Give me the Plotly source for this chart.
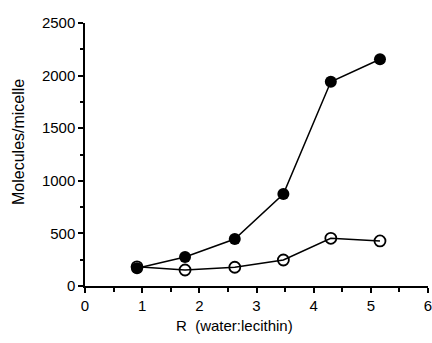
import plotly.graph_objects as go

r_values = [0.91, 1.75, 2.62, 3.47, 4.30, 5.16]
filled_values = [168, 276, 447, 874, 1942, 2155]
open_values = [182, 152, 178, 247, 453, 428]

x_ticks = [0, 1, 2, 3, 4, 5, 6]
y_ticks = [0, 500, 1000, 1500, 2000, 2500]

fig = go.Figure()
fig.add_trace(go.Scatter(
    x=r_values, y=open_values, mode="lines+markers",
    line=dict(color="black", width=1.5),
    marker=dict(symbol="circle-open", size=11, color="black", line=dict(width=1.8)),
    showlegend=False, cliponaxis=False))
fig.add_trace(go.Scatter(
    x=r_values, y=filled_values, mode="lines+markers",
    line=dict(color="black", width=1.5),
    marker=dict(symbol="circle", size=12, color="black"),
    showlegend=False, cliponaxis=False))

font = dict(family="Liberation Sans, Arial, sans-serif", size=15, color="black")
fig.update_layout(
    width=432, height=343,
    margin=dict(l=85, r=4, t=23, b=57),
    paper_bgcolor="white", plot_bgcolor="white",
    font=font,
    xaxis=dict(range=[0, 6], tickvals=x_ticks, ticks="outside", ticklen=5,
               tickwidth=1.5, tickcolor="black", showline=True, linecolor="black",
               linewidth=1.5, showgrid=False, zeroline=False, automargin=False,
               ticklabeloverflow="allow",
               minor=dict(dtick=0.5, ticks="outside", ticklen=4, tickcolor="black")),
    yaxis=dict(range=[0, 2500], tickvals=y_ticks, ticks="outside", ticklen=5,
               tickwidth=1.5, tickcolor="black", showline=True, linecolor="black",
               linewidth=1.5, showgrid=False, zeroline=False, automargin=False,
               ticklabeloverflow="allow",
               minor=dict(dtick=250, ticks="outside", ticklen=3, tickcolor="black")),
    annotations=[
        dict(text="R  (water:lecithin)", xref="paper", yref="paper",
             x=(234 - 85) / 343, y=-(325 - 286) / 263, xanchor="center", yanchor="middle",
             showarrow=False, font=dict(size=15)),
        dict(text="Molecules/micelle", xref="paper", yref="paper",
             x=-(85 - 18) / 343, y=(286 - 142) / 263, xanchor="center", yanchor="middle",
             textangle=-90, showarrow=False, font=dict(size=16)),
    ],
)
fig.write_html(
    "out.html",
    config={"displayModeBar": False},
    post_script="document.body.style.margin='0';document.body.style.overflow='hidden';",
)
